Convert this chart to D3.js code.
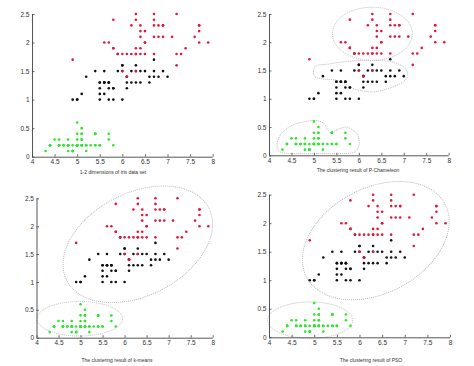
<!DOCTYPE html>
<html><head><meta charset="utf-8">
<script src="https://cdn.jsdelivr.net/npm/d3@7"></script>
<style>body{margin:0;background:#fff}svg{display:block}text{font-family:"Liberation Sans",Arial,sans-serif}</style>
</head><body><svg id="c" width="474" height="366"></svg>
<script>
// Iris: [sepal length, petal width]
const setosa = [[5.1,0.2],[4.9,0.2],[4.7,0.2],[4.6,0.2],[5.0,0.2],[5.4,0.4],[4.6,0.3],[5.0,0.2],[4.4,0.2],[4.9,0.1],
[5.4,0.2],[4.8,0.2],[4.8,0.1],[4.3,0.1],[5.8,0.2],[5.7,0.4],[5.4,0.4],[5.1,0.3],[5.7,0.3],[5.1,0.3],
[5.4,0.2],[5.1,0.4],[4.6,0.2],[5.1,0.5],[4.8,0.2],[5.0,0.2],[5.0,0.4],[5.2,0.2],[5.2,0.2],[4.7,0.2],
[4.8,0.2],[5.4,0.4],[5.2,0.1],[5.5,0.2],[4.9,0.1],[5.0,0.2],[5.5,0.2],[4.9,0.1],[4.4,0.2],[5.1,0.2],
[5.0,0.3],[4.5,0.3],[4.4,0.2],[5.0,0.6],[5.1,0.4],[4.8,0.3],[5.1,0.2],[4.6,0.2],[5.3,0.2],[5.0,0.2]];
const versicolor = [[7.0,1.4],[6.4,1.5],[6.9,1.5],[5.5,1.3],[6.5,1.5],[5.7,1.3],[6.3,1.6],[4.9,1.0],[6.6,1.3],[5.2,1.4],
[5.0,1.0],[5.9,1.5],[6.0,1.0],[6.1,1.4],[5.6,1.3],[6.7,1.4],[5.6,1.5],[5.8,1.0],[6.2,1.5],[5.6,1.1],
[5.9,1.8],[6.1,1.3],[6.3,1.5],[6.1,1.2],[6.4,1.3],[6.6,1.4],[6.8,1.4],[6.7,1.7],[6.0,1.5],[5.7,1.0],
[5.5,1.1],[5.5,1.0],[5.8,1.2],[6.0,1.6],[5.4,1.5],[6.0,1.6],[6.7,1.5],[6.3,1.3],[5.6,1.3],[5.5,1.3],
[5.5,1.2],[6.1,1.4],[5.8,1.2],[5.0,1.0],[5.6,1.3],[5.7,1.2],[5.7,1.3],[6.2,1.3],[5.1,1.1],[5.7,1.3]];
const virginica = [[6.3,2.5],[5.8,1.9],[7.1,2.1],[6.3,1.8],[6.5,2.2],[7.6,2.1],[4.9,1.7],[7.3,1.8],[6.7,1.8],[7.2,2.5],
[6.5,2.0],[6.4,1.9],[6.8,2.1],[5.7,2.0],[5.8,2.4],[6.4,2.3],[6.5,1.8],[7.7,2.2],[7.7,2.3],[6.0,1.5],
[6.9,2.3],[5.6,2.0],[7.7,2.0],[6.3,1.8],[6.7,2.1],[7.2,1.8],[6.2,1.8],[6.1,1.8],[6.4,2.1],[7.2,1.6],
[7.4,1.9],[7.9,2.0],[6.4,2.2],[6.3,1.5],[6.1,1.4],[7.7,2.3],[6.3,2.4],[6.4,1.8],[6.0,1.8],[6.9,2.1],
[6.7,2.4],[6.9,2.3],[5.8,1.9],[6.8,2.3],[6.7,2.5],[6.7,2.3],[6.3,1.9],[6.5,2.0],[6.2,2.3],[5.9,1.8]];
const xTicks = [4,4.5,5,5.5,6,6.5,7,7.5,8];
const yTicks = [0,0.5,1,1.5,2,2.5];
const titles = ["1-2 dimensions of iris data set","The clustering result of P-Chameleon","The clustering result of k-means","The clustering result of PSO"];

// P-Chameleon cluster outlines (data units)
const chamBlack = [[4.99,1.50],[5.06,1.59],[5.29,1.61],[5.73,1.66],[6.18,1.68],[6.69,1.66],[6.99,1.57],[7.09,1.42],[6.99,1.30],[6.69,1.19],[6.32,1.12],[5.95,1.16],[5.55,1.32],[5.21,1.35],[5.02,1.39]];
const chamGreen = [[4.18,0.21],[4.28,0.39],[4.54,0.54],[4.99,0.62],[5.21,0.57],[5.36,0.40],[5.51,0.45],[5.73,0.50],[5.95,0.39],[6.01,0.21],[5.92,0.06],[5.65,0.03],[5.14,0.03],[4.54,0.03],[4.24,0.06]];
// ellipses: [cx, cy, rx, ry, rotation deg]
const chamRed = [6.30,2.15,0.89,0.47,0];
const kmBig = [6.30,1.675,1.81,0.92,-27];
const kmSmall = [4.98,0.34,0.97,0.31,0];
const psoBig = [6.36,1.695,1.73,0.92,-28];
const psoSmall = [4.91,0.30,0.94,0.32,0];

const panels = [
  {x0:32,x1:212.7,y0:156.7,y1:14,tx:113,ty:174},
  {x0:269,x1:448.7,y0:155.3,y1:14,tx:358,ty:171.5},
  {x0:36.5,x1:212.7,y0:337.7,y1:198.3,tx:117,ty:362},
  {x0:269,x1:450,y0:337.3,y1:194.7,tx:371,ty:362}
];
const svg = d3.select("#c");
const col = {s:"#2be62b", v:"#111", r:"#e3173d"};
const ellStroke = "#b4b4b4";

panels.forEach((p,i)=>{
  const xs = d3.scaleLinear().domain([4,8]).range([p.x0,p.x1]);
  const ys = d3.scaleLinear().domain([0,2.5]).range([p.y0,p.y1]);
  const g = svg.append("g");
  const ell = (e)=>{
    const cx=xs(e[0]), cy=ys(e[1]);
    g.append("ellipse").attr("cx",cx).attr("cy",cy)
     .attr("rx",xs(e[0]+e[2])-cx).attr("ry",cy-ys(e[1]+e[3]))
     .attr("transform",`rotate(${e[4]},${cx},${cy})`)
     .attr("fill","none").attr("stroke",ellStroke).attr("stroke-width",0.9).attr("stroke-dasharray","1,1");
  };
  const blob = (pts)=>{
    g.append("path").attr("d",d3.line().x(d=>xs(d[0])).y(d=>ys(d[1])).curve(d3.curveCardinalClosed.tension(0.2))(pts))
     .attr("fill","none").attr("stroke",ellStroke).attr("stroke-width",0.9).attr("stroke-dasharray","1,1");
  };
  if(i===1){ell(chamRed);blob(chamBlack);blob(chamGreen);}
  if(i===2){ell(kmBig);ell(kmSmall);}
  if(i===3){ell(psoBig);ell(psoSmall);}

  [[setosa,col.s],[versicolor,col.v],[virginica,col.r]].forEach(([arr,c])=>{
    g.selectAll(null).data(arr).enter().append("circle")
     .attr("cx",d=>xs(d[0])).attr("cy",d=>ys(d[1])).attr("r",1.3).attr("fill",c);
  });

  const xa = d3.axisBottom(xs).tickValues(xTicks).tickSize(-2.5).tickPadding(3).tickFormat(d3.format("~g"));
  const ya = d3.axisLeft(ys).tickValues(yTicks).tickSize(-2.5).tickPadding(2.5).tickFormat(d3.format("~g"));
  const gx = g.append("g").attr("transform",`translate(0,${p.y0})`).call(xa);
  const gy = g.append("g").attr("transform",`translate(${p.x0},0)`).call(ya);
  [gx,gy].forEach(a=>{
    a.select(".domain").attr("stroke","#444").attr("stroke-width",0.9);
    a.selectAll(".tick line").attr("stroke","#444").attr("stroke-width",0.8);
    a.selectAll("text").attr("font-size",6.5).attr("fill","#333").attr("font-family","Liberation Sans, Arial, sans-serif");
  });
  gy.select(".domain").attr("d",`M0.5,${p.y0}V${p.y1}`);
  gx.select(".domain").attr("d",`M${p.x0},0.5H${p.x1}`);
  g.append("text").attr("x",p.tx).attr("y",p.ty).attr("text-anchor","middle")
   .attr("font-size",5).attr("fill","#333").text(titles[i]);
});
</script></body></html>
